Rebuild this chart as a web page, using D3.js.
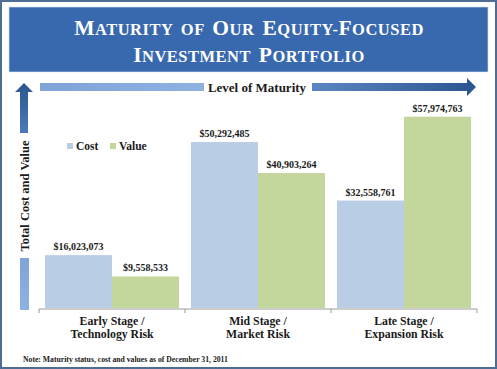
<!DOCTYPE html>
<html><head><meta charset="utf-8">
<script src="https://cdn.jsdelivr.net/npm/d3@7"></script>
<style>body{margin:0;background:#fff}svg{display:block}text{font-family:"Liberation Serif","Times New Roman",serif;font-weight:bold}</style>
</head><body>
<svg id="c" width="497" height="369"></svg>
<script>
const categories = ["Early Stage /|Technology Risk", "Mid Stage /|Market Risk", "Late Stage /|Expansion Risk"];
const series = ["Cost", "Value"];
const costValues = [16023073, 50292485, 32558761];
const valueValues = [9558533, 40903264, 57974763];
const colors = ["#B9CDE5", "#C3D69B"];
const titleLines = ["Maturity of Our Equity-Focused", "Investment Portfolio"];
const note = "Note: Maturity status, cost and values as of December 31, 2011";

const svg = d3.select("#c");
const defs = svg.append("defs");

// outer frame
svg.append("rect").attr("x",1).attr("y",1).attr("width",495).attr("height",367)
  .attr("fill","#fff").attr("stroke","#4d6d94").attr("stroke-width",2);

// title band
svg.append("rect").attr("x",9).attr("y",7).attr("width",479).attr("height",65).attr("fill","#3868AE")
  .attr("stroke","#dfe6f0").attr("stroke-width",0.6);
const tt = svg.append("g");
const SM = 16.5, BG = 21.5;
titleLines.forEach((line,i)=>{
  const t = tt.append("text").attr("x",249).attr("y",35+i*27).attr("text-anchor","middle").attr("fill","#fff")
    .style("letter-spacing","0.5px").style("word-spacing","3.5px");
  line.split(" ").forEach((w,j)=>{
    const parts = w.split("-");
    parts.forEach((p,k)=>{
      const pre = (j>0 && k===0) ? " " : (k>0 ? "-" : "");
      const first = p[0];
      const isCap = first === first.toUpperCase();
      if (pre) t.append("tspan").attr("font-size",SM).text(pre);
      t.append("tspan").attr("font-size",isCap?BG:SM).text(first.toUpperCase());
      t.append("tspan").attr("font-size",SM).text(p.slice(1).toUpperCase());
    });
  });
});

// gradients
const g1 = defs.append("linearGradient").attr("id","hl").attr("x1","0").attr("x2","1").attr("y1","0").attr("y2","0");
g1.append("stop").attr("offset","0").attr("stop-color","#7FA3D6");
g1.append("stop").attr("offset","1").attr("stop-color","#8DB2E2");
const g2 = defs.append("linearGradient").attr("id","hd").attr("x1","0").attr("x2","1").attr("y1","0").attr("y2","0");
g2.append("stop").attr("offset","0").attr("stop-color","#5A86C2");
g2.append("stop").attr("offset","1").attr("stop-color","#2A5590");
const g3 = defs.append("linearGradient").attr("id","vd").attr("x1","0").attr("x2","0").attr("y1","0").attr("y2","1");
g3.append("stop").attr("offset","0").attr("stop-color","#2A5590");
g3.append("stop").attr("offset","1").attr("stop-color","#4C7AB8");
const g4 = defs.append("linearGradient").attr("id","vl").attr("x1","0").attr("x2","0").attr("y1","0").attr("y2","1");
g4.append("stop").attr("offset","0").attr("stop-color","#7FA3D6");
g4.append("stop").attr("offset","1").attr("stop-color","#8DB2E2");

// horizontal arrow
svg.append("rect").attr("x",40).attr("y",83).attr("width",164).attr("height",8).attr("fill","url(#hl)");
svg.append("path").attr("d","M312,83 L467,83 L467,78 L476,87 L467,96 L467,91 L312,91 Z").attr("fill","url(#hd)");
svg.append("text").attr("x",257).attr("y",92).attr("text-anchor","middle").attr("font-size",13).attr("fill","#1a1a1a").text("Level of Maturity");

// vertical arrow
svg.append("path").attr("d","M20,133 L20,92 L15,92 L24,83 L33,92 L28,92 L28,133 Z").attr("fill","url(#vd)");
svg.append("rect").attr("x",20).attr("y",258).attr("width",9).attr("height",52).attr("fill","url(#vl)");
svg.append("text").attr("transform","translate(28.5,196) rotate(-90)").attr("text-anchor","middle")
  .attr("font-size",12.5).attr("fill","#1a1a1a").text("Total Cost and Value");

// chart
const x0 = d3.scaleBand().domain(categories).range([39,477]).paddingInner(0.082).paddingOuter(0.041);
const x1 = d3.scaleBand().domain(series).range([0,x0.bandwidth()]);
const y = d3.scaleLinear().domain([0,60000000]).range([308,110]);
const data = categories.map((c,i)=>({c, vals:[costValues[i], valueValues[i]]}));

const groups = svg.append("g").selectAll("g").data(data).join("g").attr("transform",d=>`translate(${x0(d.c)},0)`);
groups.selectAll("rect").data(d=>d.vals.map((v,i)=>({s:series[i],v}))).join("rect")
  .attr("x",d=>x1(d.s)).attr("width",x1.bandwidth()).attr("y",d=>y(d.v)).attr("height",d=>y(0)-y(d.v))
  .attr("fill",(d,i)=>colors[i]);
groups.selectAll("text.lab").data(d=>d.vals.map((v,i)=>({s:series[i],v}))).join("text").attr("class","lab")
  .attr("x",d=>x1(d.s)+x1.bandwidth()/2).attr("y",d=>y(d.v)-5).attr("text-anchor","middle")
  .attr("font-size",10).attr("fill","#1a1a1a").text(d=>"$"+d3.format(",")(d.v));

// x axis
const xb = d3.scaleLinear().domain([0,3]).range([39,477]);
const ax = svg.append("g").attr("transform","translate(0,309)");
ax.append("line").attr("x1",39).attr("x2",477).attr("stroke","#999");
ax.selectAll("line.t").data([0,1,2,3]).join("line").attr("class","t").attr("x1",d=>xb(d)).attr("x2",d=>xb(d)).attr("y1",0).attr("y2",4).attr("stroke","#999");
categories.forEach((c,i)=>{
  const t = svg.append("text").attr("x",x0(c)+x0.bandwidth()/2).attr("text-anchor","middle").attr("font-size",11.8).attr("fill","#1a1a1a");
  c.split("|").forEach((l,k)=>t.append("tspan").attr("x",x0(c)+x0.bandwidth()/2).attr("y",325+k*13).text(l));
});

// legend
const lg = svg.append("g");
[[67,"Cost"],[110,"Value"]].forEach(([lx,s],i)=>{
  lg.append("rect").attr("x",lx).attr("y",143).attr("width",6).attr("height",6).attr("fill",colors[i]);
  lg.append("text").attr("x",lx+9).attr("y",150).attr("font-size",11.5).attr("fill","#1a1a1a").text(s);
});

svg.append("text").attr("x",23).attr("y",362).attr("font-size",7.7).attr("fill","#1a1a1a").text(note);
</script>
</body></html>
